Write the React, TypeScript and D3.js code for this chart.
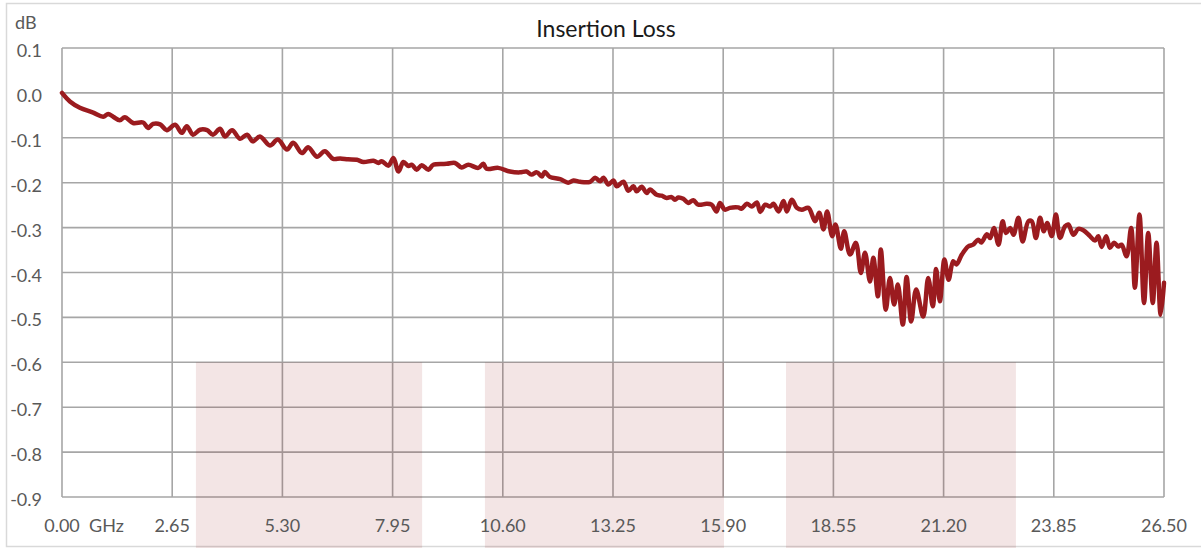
import React from "react";
import * as d3 from "d3";

const freqGHz: number[] = [
  0, 0.19, 0.43, 0.75, 0.99, 1.11, 1.23, 1.39, 1.51, 1.71, 1.95, 2.07, 2.19, 2.36, 2.52, 2.72, 2.88, 3.0, 3.15, 3.32,
  3.49, 3.63, 3.8, 3.92, 4.09, 4.28, 4.45, 4.59, 4.76, 5.0, 5.19, 5.41, 5.56, 5.77, 5.92, 6.13, 6.32, 6.52, 6.69, 6.88,
  7.09, 7.25, 7.49, 7.61, 7.69, 7.85, 7.97, 8.09, 8.21, 8.33, 8.41, 8.53, 8.65, 8.81, 8.93, 9.25, 9.45, 9.61, 9.77, 10.01,
  10.13, 10.21, 10.49, 10.77, 11.01, 11.17, 11.29, 11.42, 11.54, 11.61, 11.73, 11.98, 12.17, 12.3, 12.46, 12.7, 12.82, 12.94, 13.02, 13.14,
  13.26, 13.34, 13.5, 13.62, 13.74, 13.82, 13.94, 14.06, 14.14, 14.3, 14.42, 14.54, 14.66, 14.74, 14.82, 14.94, 15.06, 15.18, 15.3, 15.5,
  15.62, 15.74, 15.82, 15.94, 16.06, 16.26, 16.34, 16.47, 16.59, 16.71, 16.79, 16.91, 17.03, 17.11, 17.23, 17.35, 17.43, 17.55, 17.67, 17.79,
  17.95, 18.11, 18.21, 18.31, 18.4, 18.52, 18.6, 18.73, 18.81, 18.95, 19.09, 19.21, 19.31, 19.43, 19.51, 19.62, 19.69, 19.81, 19.91, 20.01,
  20.1, 20.22, 20.31, 20.42, 20.54, 20.71, 20.83, 20.94, 21.02, 21.11, 21.22, 21.32, 21.43, 21.51, 21.64, 21.79, 21.91, 22.03, 22.11, 22.24,
  22.32, 22.41, 22.52, 22.62, 22.7, 22.8, 22.88, 23.0, 23.1, 23.24, 23.32, 23.42, 23.52, 23.61, 23.69, 23.8, 23.9, 24.0, 24.12, 24.2,
  24.32, 24.44, 24.56, 24.72, 24.84, 24.92, 25.0, 25.11, 25.2, 25.3, 25.4, 25.48, 25.6, 25.71, 25.8, 25.91, 26.02, 26.12, 26.23, 26.32,
  26.42, 26.5,
];

const lossDB: number[] = [
  0, -0.019, -0.033, -0.044, -0.053, -0.047, -0.053, -0.061, -0.054, -0.067, -0.066, -0.078, -0.069, -0.07, -0.083, -0.071, -0.089, -0.074, -0.093, -0.082,
  -0.083, -0.093, -0.08, -0.097, -0.083, -0.102, -0.093, -0.108, -0.097, -0.117, -0.104, -0.126, -0.111, -0.134, -0.121, -0.142, -0.13, -0.147, -0.146, -0.148,
  -0.149, -0.154, -0.151, -0.156, -0.152, -0.162, -0.145, -0.175, -0.154, -0.163, -0.16, -0.171, -0.161, -0.171, -0.16, -0.158, -0.156, -0.166, -0.16, -0.167,
  -0.158, -0.169, -0.167, -0.175, -0.177, -0.175, -0.182, -0.177, -0.186, -0.176, -0.187, -0.192, -0.2, -0.195, -0.198, -0.198, -0.189, -0.197, -0.189, -0.204,
  -0.195, -0.208, -0.198, -0.218, -0.208, -0.219, -0.209, -0.223, -0.215, -0.227, -0.229, -0.234, -0.232, -0.238, -0.233, -0.236, -0.245, -0.239, -0.249, -0.247,
  -0.249, -0.264, -0.245, -0.26, -0.256, -0.255, -0.258, -0.247, -0.253, -0.244, -0.265, -0.249, -0.253, -0.247, -0.264, -0.241, -0.264, -0.238, -0.256, -0.26,
  -0.256, -0.286, -0.267, -0.304, -0.264, -0.319, -0.293, -0.347, -0.308, -0.36, -0.334, -0.401, -0.356, -0.42, -0.367, -0.453, -0.349, -0.483, -0.412, -0.471,
  -0.427, -0.516, -0.41, -0.509, -0.438, -0.498, -0.412, -0.475, -0.392, -0.464, -0.371, -0.416, -0.375, -0.382, -0.36, -0.342, -0.338, -0.327, -0.333, -0.315,
  -0.323, -0.301, -0.338, -0.286, -0.312, -0.301, -0.316, -0.278, -0.331, -0.286, -0.286, -0.323, -0.278, -0.308, -0.29, -0.319, -0.271, -0.323, -0.297, -0.293,
  -0.316, -0.303, -0.306, -0.319, -0.329, -0.319, -0.343, -0.319, -0.345, -0.334, -0.342, -0.338, -0.364, -0.301, -0.434, -0.271, -0.468, -0.312, -0.468, -0.334,
  -0.494, -0.423,
];

const xTickValues: number[] = [0, 2.65, 5.3, 7.95, 10.6, 13.25, 15.9, 18.55, 21.2, 23.85, 26.5];
const xTickLabels: string[] = ["0.00", "2.65", "5.30", "7.95", "10.60", "13.25", "15.90", "18.55", "21.20", "23.85", "26.50"];
const yTickValues: number[] = [0.1, 0, -0.1, -0.2, -0.3, -0.4, -0.5, -0.6, -0.7, -0.8, -0.9];
const yTickLabels: string[] = ["0.1", "0.0", "-0.1", "-0.2", "-0.3", "-0.4", "-0.5", "-0.6", "-0.7", "-0.8", "-0.9"];

const bandStart: number[] = [3.22, 10.17, 17.41];
const bandEnd: number[] = [8.66, 15.92, 22.94];
const bandTop = -0.6;
const bandBottom = -1.05;

const title = "Insertion Loss";
const yUnit = "dB";
const xUnit = "GHz";

const W = 1201;
const H = 548;
const FONT = "Lato, 'Open Sans', sans-serif";

export default function App() {
  const x = d3.scaleLinear().domain([0, 26.5]).range([62, 1164]);
  const y = d3.scaleLinear().domain([-0.9, 0.1]).range([497, 48]);
  const pts: [number, number][] = freqGHz.map((f, i) => [f, lossDB[i]]);
  const line = d3
    .line<[number, number]>()
    .x((d) => x(d[0]))
    .y((d) => y(d[1]))
    .curve(d3.curveCatmullRom.alpha(0.5));
  const gridColor = "#a6a6a6";
  const textColor = "#595959";

  return (
    <div style={{ position: "absolute", left: 0, top: 0, width: W, height: H, background: "#fff" }}>
      <svg width={W} height={H} style={{ display: "block" }}>
        <rect x={6.5} y={3.5} width={W} height={543} fill="#fff" stroke="#d9d9d9" strokeWidth={1.5} />
        <text x={606} y={28} textAnchor="middle" dominantBaseline="central" fontFamily={FONT} fontSize={23} fill="#1a1a1a">
          {title}
        </text>
        <text x={15} y={22} dominantBaseline="central" fontFamily={FONT} fontSize={18} fill={textColor}>
          {yUnit}
        </text>
        {yTickValues.map((v) => (
          <line key={"gy" + v} x1={x(0)} x2={x(26.5)} y1={y(v)} y2={y(v)} stroke={gridColor} strokeWidth={1.6} />
        ))}
        {xTickValues.map((v) => (
          <line key={"gx" + v} x1={x(v)} x2={x(v)} y1={y(0.1)} y2={y(-0.9)} stroke={gridColor} strokeWidth={1.6} />
        ))}
        {bandStart.map((s, i) => (
          <rect
            key={"b" + i}
            x={x(s)}
            y={y(bandTop)}
            width={x(bandEnd[i]) - x(s)}
            height={y(bandBottom) - y(bandTop)}
            fill="#8b0000"
            fillOpacity={0.1}
          />
        ))}
        {yTickValues.map((v, i) => (
          <text key={"ty" + v} x={42} y={y(v) + 2} textAnchor="end" dominantBaseline="central" fontFamily={FONT} fontSize={18} fill={textColor}>
            {yTickLabels[i]}
          </text>
        ))}
        {xTickValues.map((v, i) => (
          <text key={"tx" + v} x={x(v)} y={525} textAnchor="middle" dominantBaseline="central" fontFamily={FONT} fontSize={18} fill={textColor}>
            {xTickLabels[i]}
          </text>
        ))}
        <text x={89} y={525} dominantBaseline="central" fontFamily={FONT} fontSize={18} fill={textColor}>
          {xUnit}
        </text>
        <path d={line(pts) || ""} fill="none" stroke="#9b1b1f" strokeWidth={4.5} strokeLinejoin="round" strokeLinecap="round" />
      </svg>
    </div>
  );
}
